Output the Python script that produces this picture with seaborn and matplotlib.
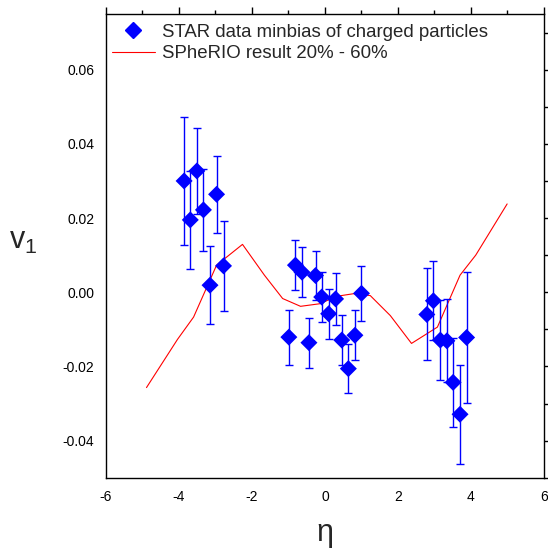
import matplotlib
matplotlib.use("Agg")
import matplotlib.pyplot as plt
from matplotlib.lines import Line2D
from matplotlib.ticker import MultipleLocator
import numpy as np
import pandas as pd
import seaborn as sns

sns.set_style("white")
plt.rcParams["font.family"] = ["Liberation Sans", "DejaVu Sans"]
plt.rcParams["mathtext.fontset"] = "custom"
plt.rcParams["mathtext.rm"] = "Liberation Sans"
plt.rcParams["mathtext.it"] = "Liberation Sans"
plt.rcParams["axes.unicode_minus"] = False

# STAR data, minbias, charged particles
star_eta = [-3.86, -3.69, -3.51, -3.33, -3.15, -2.97, -2.78,
            -0.99, -0.81, -0.63, -0.44, -0.26, -0.09, 0.10, 0.29, 0.46, 0.64, 0.82, 1.00,
            2.79, 2.97, 3.16, 3.34, 3.51, 3.70, 3.88]
star_v1 = [0.0300, 0.0195, 0.0327, 0.0222, 0.0019, 0.0264, 0.0071,
           -0.0121, 0.0073, 0.0054, -0.0136, 0.0045, -0.0013, -0.0058, -0.0018, -0.0129, -0.0206, -0.0116, -0.0003,
           -0.0060, -0.0023, -0.0129, -0.0131, -0.0243, -0.0329, -0.0122]
star_err = [0.0172, 0.0132, 0.0117, 0.0110, 0.0105, 0.0104, 0.0122,
            0.0074, 0.0068, 0.0068, 0.0067, 0.0067, 0.0068, 0.0068, 0.0069, 0.0068, 0.0067, 0.0068, 0.0075,
            0.0124, 0.0106, 0.0107, 0.0112, 0.0120, 0.0133, 0.0177]

# SPheRIO result 20% - 60%
spherio_eta = [-4.89, -4.04, -3.60, -2.97, -2.26, -1.66, -1.16, -0.67, -0.14, 0.32,
               0.78, 1.24, 1.79, 2.37, 3.08, 3.70, 4.13, 4.99]
spherio_v1 = [-0.0257, -0.0127, -0.0067, 0.0073, 0.0129, 0.0046, -0.0017, -0.0038, -0.0031, -0.0011,
              -0.0004, -0.0009, -0.0063, -0.0138, -0.0094, 0.0046, 0.0100, 0.0238]

star_df = pd.DataFrame({"eta": star_eta, "v1": star_v1, "err": star_err})
model_df = pd.DataFrame({"eta": spherio_eta, "v1": spherio_v1})

fig = plt.figure(figsize=(5.48, 5.52), dpi=100)
ax = fig.add_axes([0.1934, 0.1346, 0.7993, 0.840])

# 模型曲线
sns.lineplot(data=model_df, x="eta", y="v1", ax=ax, color="red", linewidth=0.8, sort=False)
# 误差棒
ax.errorbar(star_df["eta"], star_df["v1"], yerr=star_df["err"], fmt="none",
            ecolor="blue", elinewidth=1.0, capsize=3, capthick=1.0, zorder=3)
# 数据点
sns.scatterplot(data=star_df, x="eta", y="v1", ax=ax, marker="D", s=75,
                color="blue", edgecolor="none", zorder=4)

ax.set_xlim(-6, 6)
ax.set_ylim(-0.05, 0.075)
ax.set_xticks(np.arange(-6, 7, 2))
ax.set_yticks([-0.04, -0.02, 0.00, 0.02, 0.04, 0.06])
ax.set_yticklabels(["-0.04", "-0.02", "0.00", "0.02", "0.04", "0.06"])
ax.xaxis.set_minor_locator(MultipleLocator(1))
ax.yaxis.set_minor_locator(MultipleLocator(0.01))
ax.tick_params(which="both", direction="out", top=True, right=True, width=1, color="black",
               labelsize=10, labelcolor="black")
ax.tick_params(which="major", length=5)
ax.tick_params(which="minor", length=3)
for sp in ax.spines.values():
    sp.set_color("black")
    sp.set_linewidth(1)

ax.set_xlabel("η", fontsize=22, va="center")
ax.xaxis.set_label_coords(0.5, -0.119)
ax.set_ylabel(r"$\mathregular{v_1}$", fontsize=22, rotation=0, va="center", ha="center")
ax.yaxis.set_label_coords(-0.19, 0.51)

handles = [
    Line2D([], [], marker="D", color="blue", linestyle="none", markersize=8),
    Line2D([], [], color="red", linewidth=0.8),
]
ax.legend(handles, ["STAR data minbias of charged particles", "SPheRIO result 20% - 60%"],
          loc="upper left", bbox_to_anchor=(0.0137, 0.979), frameon=False, fontsize=13.4,
          handlelength=2.3, handletextpad=0.37, labelspacing=0.24, borderpad=0,
          borderaxespad=0)

fig.savefig("out.png", dpi=100)
plt.close("all")
